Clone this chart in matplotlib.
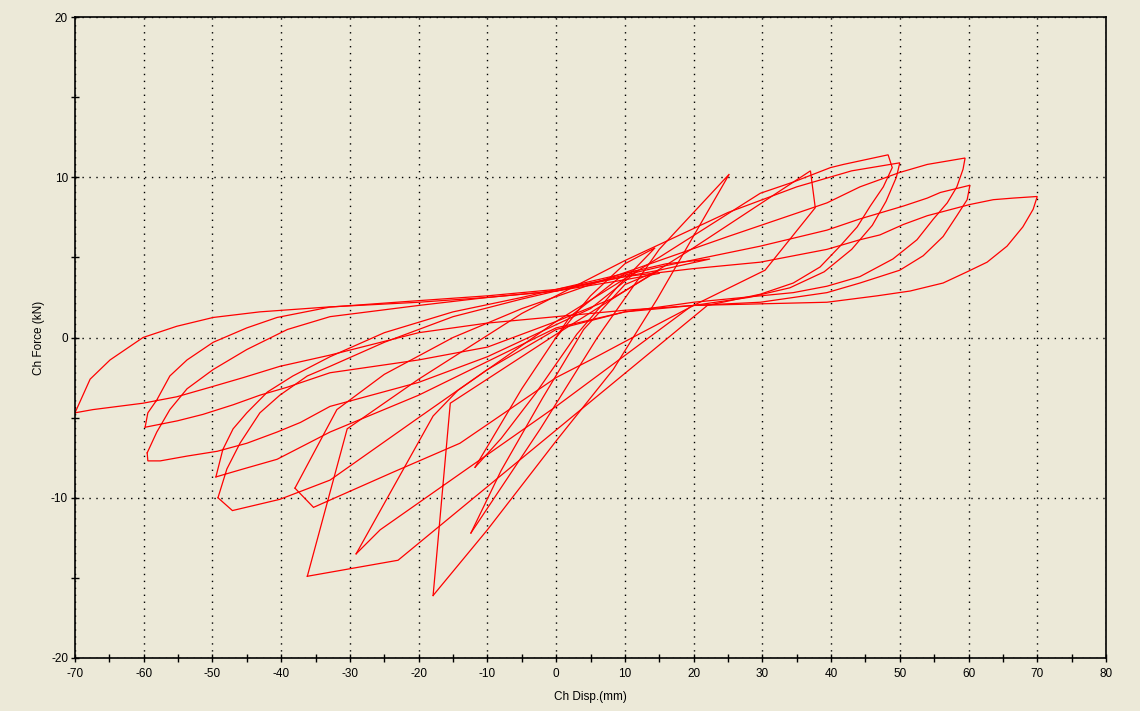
import matplotlib
matplotlib.use("Agg")
import matplotlib.pyplot as plt
from matplotlib.ticker import MultipleLocator

# displacement (mm) / force (kN) vertices, one cycle per pair of lists
c1_disp = [0, 5, 10, 14.4, 9, 3, -3, -8, -11.8]
c1_force = [0, 2.6, 4.6, 5.6, 3.2, 0.2, -3.5, -6.3, -8.1]

c2_disp = [-11.8, -5, 2, 10, 16, 22.4, 15, 10, 4, -2, -8, -12.4]
c2_force = [-8.1, -3.2, 1.3, 4.0, 4.6, 4.9, 4.2, 3.3, 0.5, -3.8, -8.3, -12.2]

c3_disp = [-12.4, -2.3, 6, 15, 25.2, 14.7, 8.3, 0.1, -10, -17.9]
c3_force = [-12.2, -5.7, 0, 5.5, 10.2, 2.4, -2.0, -6.4, -12.0, -16.1]

c4_disp = [-17.9, -15.4, 0, 20, 37, 37.7, 30.4, 19.5, 0, -25.6, -29.1]
c4_force = [-16.1, -4.1, 0.2, 5.6, 10.4, 8.1, 4.2, 1.9, -4.3, -12.0, -13.5]

c5_disp = [-29.1, -17.9, -14.3, 0, 15, 29.7, 34.5, 39.9, 41.8, 48.3, 48.9,
           47.6, 45.7, 43.8, 41.3, 38.4, 34.5, 29.7, 22, -23, -36.2]
c5_force = [-13.5, -4.9, -3.3, 1.0, 5.0, 9.0, 9.7, 10.6, 10.8, 11.4, 10.6,
            9.4, 8.2, 6.9, 5.7, 4.4, 3.4, 2.7, 2.0, -13.9, -14.9]

c6_disp = [-36.2, -30.4, -20, -5, 10, 25, 35, 43, 50, 49.5, 48, 46, 43, 39,
           34, 28, 20, 12, 5, 0, -14, -23.7, -35.3, -38]
c6_force = [-14.9, -5.7, -2.6, 1.5, 4.8, 7.8, 9.4, 10.4, 10.9, 10.0, 8.5,
            7.0, 5.5, 4.1, 3.1, 2.5, 2.0, 0.2, -1.4, -2.5, -6.6, -8.4, -10.6, -9.4]

c7_disp = [-38, -31.9, -25, -15, -5, 5, 15, 25, 39.4, 44.2, 50, 54, 59.5,
           59.2, 58.3, 56.9, 54.9, 52.5, 49, 44.2, 39.4, 34.5, 29.7, 20, 10,
           0, -10, -20, -32.9, -40.2, -47.1, -49.2]
c7_force = [-9.4, -4.5, -2.3, 0, 1.8, 3.3, 4.8, 6.3, 8.4, 9.4, 10.3, 10.8, 11.2,
            10.5, 9.4, 8.4, 7.4, 6.1, 4.9, 3.8, 3.2, 2.8, 2.6, 2.2, 1.6,
            0.5, -2.0, -5.0, -8.9, -10.1, -10.8, -10.0]

c8_disp = [-49.2, -47.9, -46, -43.1, -40.2, -36.2, -32.9, -25, -15, -5, 5, 15,
           29.7, 39.4, 44.2, 50.5, 54, 55.9, 60.2, 59.8, 58.3, 56.3, 53.4, 50,
           44.2, 39.4, 29.7, 20, 10, 0, -10, -20, -32.9, -40.6, -45.5, -49.5]
c8_force = [-10.0, -8.2, -6.6, -4.7, -3.6, -2.4, -1.8, -0.3, 1.3, 2.4, 3.4, 4.4,
            5.7, 6.7, 7.4, 8.2, 8.7, 9.05, 9.5, 8.6, 7.6, 6.3, 5.1, 4.2,
            3.4, 2.8, 2.2, 2.0, 1.6, 0.6, -1.5, -3.6, -5.9, -7.6, -8.2, -8.7]

c9_disp = [-49.5, -48.5, -47, -45, -42, -38.3, -32.9, -25, -15, -5, 5, 12,
           5, 0, -10, -20, -32.9, -37.2, -40.6, -45, -49.3, -53.7, -57.6,
           -59.4, -59.5]
c9_force = [-8.7, -7.0, -5.7, -4.7, -3.4, -2.4, -1.2, 0.3, 1.6, 2.5, 3.5, 4.2,
            1.8, 0.8, -1.2, -2.8, -4.3, -5.3, -5.9, -6.6, -7.1, -7.4, -7.7,
            -7.7, -7.2]

c10_disp = [-59.5, -58.1, -56.2, -53.7, -49.9, -45, -39.1, -32.9, -20, -10, 0,
            10, 15, 8, 0, -10, -20, -32.9, -39.1, -43.1, -47, -51.4, -55.1, -59.8]
c10_force = [-7.2, -5.9, -4.5, -3.2, -2.0, -0.75, 0.5, 1.3, 2.0, 2.5, 2.9,
             3.8, 4.2, 2.4, 1.0, -0.6, -1.4, -2.2, -3.1, -3.6, -4.2, -4.8, -5.2, -5.6]

c11_disp = [-59.8, -59.4, -58.1, -56.2, -53.7, -49.9, -45, -40.6, -32.9, -20,
            -10, 0, 10, 20, 29.7, 39.4, 44.2, 47.1, 50.5, 54, 60.2, 63.6, 66.5,
            70, 69.4, 67.9, 65.6, 62.7, 59.8, 56.3, 51.5, 46.7, 39.4, 29.7, 20,
            10, 0, -10, -20, -32.9, -40.2, -45.5, -50.3, -55.2, -60.1, -67.4, -70]
c11_force = [-5.6, -4.7, -3.9, -2.4, -1.4, -0.3, 0.6, 1.25, 1.9, 2.3,
             2.6, 3.0, 3.8, 4.3, 4.7, 5.5, 6.1, 6.4, 7.05, 7.6, 8.3, 8.6, 8.7,
             8.8, 8.0, 6.9, 5.7, 4.7, 4.1, 3.4, 2.9, 2.6, 2.2, 2.1, 2.0,
             1.7, 1.3, 0.9, 0.3, -1.1, -1.8, -2.5, -3.1, -3.7, -4.1, -4.5, -4.7]

c12_disp = [-70, -67.8, -64.9, -60.1, -55.2, -49.9, -43.1, -33.3, -20, -10, 0, 10, 15]
c12_force = [-4.7, -2.6, -1.4, 0, 0.7, 1.25, 1.6, 1.9, 2.2, 2.5, 2.9, 3.6, 4.0]

cycles = [
    (c1_disp, c1_force), (c2_disp, c2_force), (c3_disp, c3_force),
    (c4_disp, c4_force), (c5_disp, c5_force), (c6_disp, c6_force),
    (c7_disp, c7_force), (c8_disp, c8_force), (c9_disp, c9_force),
    (c10_disp, c10_force), (c11_disp, c11_force), (c12_disp, c12_force),
]

BG = "#ECE9D8"

plt.rcParams["font.family"] = ["Liberation Sans", "DejaVu Sans"]
plt.rcParams["axes.unicode_minus"] = False

fig = plt.figure(figsize=(11.4, 7.11), dpi=100, facecolor=BG)
ax = fig.add_axes([75 / 1140, 1 - 658 / 711, 1031 / 1140, 641 / 711])
ax.set_facecolor(BG)

for disp, force in cycles:
    ax.plot(disp, force, color="#FF0000", linewidth=0.9, solid_joinstyle="miter")

ax.set_xlim(-70, 80)
ax.set_ylim(-20, 20)
ax.xaxis.set_major_locator(MultipleLocator(10))
ax.xaxis.set_minor_locator(MultipleLocator(5))
ax.yaxis.set_major_locator(MultipleLocator(10))
ax.yaxis.set_minor_locator(MultipleLocator(5))

ax.grid(True, which="major", color="black", linewidth=1.0,
        linestyle=(0, (1.0, 4.0)))
ax.set_axisbelow(True)

for side in ["left", "bottom", "top", "right"]:
    ax.spines[side].set_linewidth(1.2)
    ax.spines[side].set_color("black")

ax.tick_params(which="both", direction="inout", width=1, length=6,
               labelsize=8.5, colors="black", top=False, right=False)
ax.tick_params(axis="x", which="major", pad=4)
ax.tick_params(axis="y", which="major", pad=2)

ax.set_xlabel("Ch Disp.(mm)", fontsize=8.5, labelpad=8)
ax.set_ylabel("Ch Force (kN)", fontsize=8.5, labelpad=4)

fig.savefig("out.png", dpi=100, facecolor=BG)
